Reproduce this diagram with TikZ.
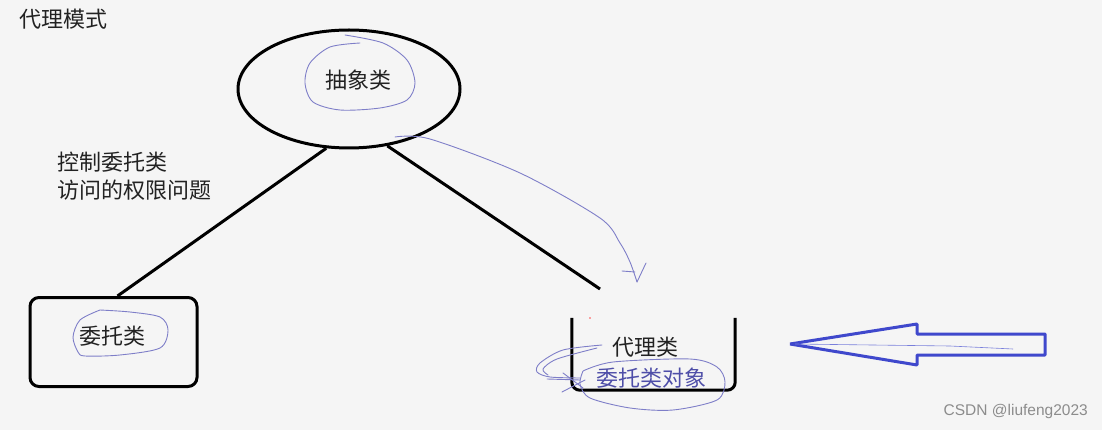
\documentclass[tikz,border=0pt]{standalone}
\usepackage{fontspec}
\setmainfont{Noto Sans CJK SC}
\newfontfamily\wmfont{Liberation Sans}
\usetikzlibrary{shapes.geometric}
\definecolor{bgc}{HTML}{F5F5F5}
\definecolor{pen}{HTML}{7E7EC8}
\definecolor{blk}{HTML}{3F48CC}
\definecolor{txt}{HTML}{222222}
\definecolor{txtb}{HTML}{4E4EA8}
\tikzset{
  cjk/.style={font=\fontsize{22}{28}\selectfont, text=txt, inner sep=0pt},
  thick line/.style={line width=3pt, draw=black},
  penline/.style={draw=pen, line width=0.9pt, line cap=round, line join=round},
}
\begin{document}
\begin{tikzpicture}[x=1pt,y=-1pt]
\fill[bgc] (0,0) rectangle (1102,430);
\useasboundingbox (0,0) rectangle (1102,430);

% title
\node[cjk, anchor=west] (title) at (19,19) {代理模式};

% abstract class ellipse
\node[ellipse, thick line, minimum width=222pt, minimum height=118pt, inner sep=0pt] (abs) at (349,89) {};
\node[cjk] (abst) at (358,80) {抽象类};

% delegate class box
\node[rectangle, thick line, rounded corners=9pt, minimum width=167pt, minimum height=89pt, inner sep=0pt] (del) at (113.5,342) {};
\node[cjk] (delt) at (112,336) {委托类};

% proxy class box (open at top)
\node[rectangle, minimum width=163pt, minimum height=72pt, inner sep=0pt] (prx) at (653.5,354) {};
\draw[thick line, rounded corners=8pt] (prx.north west) -- (prx.south west) -- (prx.south east) -- (prx.north east);
\node[cjk] (prxt) at (645,347) {代理类};
\node[cjk, text=txtb] (prxo) at (651,378) {委托类对象};

% connectors
\coordinate (rend) at (600,289);
\draw[thick line] (abs.249.8) -- ([xshift=4pt]del.north);
\draw[thick line] (abs.304) -- (rend);

% side note
\node[cjk, anchor=west] (note1) at (57,162) {控制委托类};
\node[cjk, anchor=west] (note2) at (57,190) {访问的权限问题};

% pen loops
\draw[penline] plot[smooth] coordinates {(360,43) (330,47) (310,63) (305,83) (313,102) (340,110) (380,108) (407,100) (415,83) (407,60) (383,43) (345,35)};
\draw[penline] plot[smooth] coordinates {(100,310) (80,320) (73,337) (78,352) (85,356) (120,355) (160,348) (168,330) (160,317) (130,312) (100,310)};
\draw[penline] plot[smooth] coordinates {(583,371) (613,362) (690,359) (717,367) (725,382) (717,400) (673,410) (630,408) (590,398) (580,384) (583,371)};
\draw[penline] plot[smooth] coordinates {(602,345) (563,350) (540,363) (537,372) (550,377) (580,378)};
\draw[penline] plot[smooth] coordinates {(597,348) (557,359) (543,369) (548,375)};
\draw[penline] (563,373) -- (583,388);
\draw[penline] (562,392) -- (585,380);
\draw[penline] (547,379) -- (580,380);

% pen arrow
\draw[penline] plot[smooth] coordinates {(395,137) (430,139) (520,173) (600,218) (620,243) (630,262) (637,282)};
\draw[penline] (622,271) -- (635,272);
\draw[penline] (646,263) -- (637,282);

% small red dot
\fill[red!70] (590,318) circle (0.8);

% block arrow
\draw[blk, line width=3pt, line join=bevel] (790,344) -- (917,324) -- (917,334) -- (1045,334) -- (1045,355) -- (917,355) -- (917,365) -- cycle;
\draw[blk!70, line width=0.6pt] (795,344) -- (950,346) -- (1013,349);

% watermark
\node[font=\wmfont\fontsize{15.5}{18}\selectfont, text=black!45, anchor=east, inner sep=0pt] (wm) at (1088,411) {CSDN @liufeng2023};
\end{tikzpicture}
\end{document}
